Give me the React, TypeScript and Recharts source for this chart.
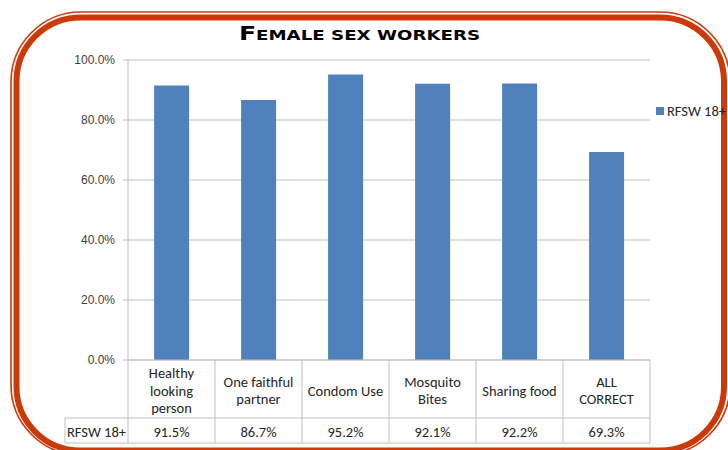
import React from 'react';
import { BarChart, Bar, XAxis, YAxis, CartesianGrid, Legend } from 'recharts';

const title = 'Female sex workers';
const seriesName = 'RFSW 18+';
const categories = [
  'Healthy looking person',
  'One faithful partner',
  'Condom Use',
  'Mosquito Bites',
  'Sharing food',
  'ALL CORRECT',
];
const categoryLabelLines = [
  ['Healthy', 'looking', 'person'],
  ['One faithful', 'partner'],
  ['Condom Use'],
  ['Mosquito', 'Bites'],
  ['Sharing food'],
  ['ALL', 'CORRECT'],
];
const values = [91.5, 86.7, 95.2, 92.1, 92.2, 69.3];
const yTicks = [0, 20, 40, 60, 80, 100];

const data = categories.map((c, i) => ({ category: c, value: values[i] }));

const W = 728;
const H = 450;
const MARGIN = { top: 60, right: 78, bottom: 0, left: 0 };
const Y_AXIS_W = 128;
const X_AXIS_H = 90;
const PLOT_W = W - MARGIN.left - MARGIN.right - Y_AXIS_W;

const BLUE = '#4F81BD';
const GRID = '#BFBFBF';
const FRAME = '#CC3A0A';
const TEXT = '#262626';
const TABLE_FONT = "Carlito, 'Liberation Sans Narrow', 'Liberation Sans', Arial, sans-serif";
const TABLE_FS = 14.5;

const fmt = (v: number) => `${v.toFixed(1)}%`;

const TableTick = (props: any) => {
  const { x, y, payload, index } = props;
  const n = categories.length;
  const cw = PLOT_W / n;
  const i = typeof index === 'number' ? index : categories.indexOf(payload.value);
  const lines = categoryLabelLines[i] || [String(payload.value)];
  const val = values[i];
  const left = x - cw / 2;
  const right = x + cw / 2;
  const rowSplit = y + 58;
  const bottom = y + 83;
  const lh = 17.5;
  const midY = y + 30.5;
  const startY = midY - ((lines.length - 1) * lh) / 2;
  const labelLeft = left - 63;
  return (
    <g>
      <line x1={right} y1={y} x2={right} y2={bottom} stroke={GRID} strokeWidth={1} />
      <line x1={left} y1={rowSplit} x2={right} y2={rowSplit} stroke={GRID} strokeWidth={1} />
      <line x1={left} y1={bottom} x2={right} y2={bottom} stroke={GRID} strokeWidth={1} />
      {i === 0 && (
        <g>
          <line x1={left} y1={y} x2={left} y2={bottom} stroke={GRID} strokeWidth={1} />
          <line x1={labelLeft} y1={rowSplit} x2={left} y2={rowSplit} stroke={GRID} strokeWidth={1} />
          <line x1={labelLeft} y1={bottom} x2={left} y2={bottom} stroke={GRID} strokeWidth={1} />
          <line x1={labelLeft} y1={rowSplit} x2={labelLeft} y2={bottom} stroke={GRID} strokeWidth={1} />
          <text
            x={(labelLeft + left) / 2}
            y={y + 71.5}
            textAnchor="middle"
            dominantBaseline="central"
            fontSize={TABLE_FS}
            fontFamily={TABLE_FONT}
            fill={TEXT}
          >
            {seriesName}
          </text>
        </g>
      )}
      {lines.map((ln: string, k: number) => (
        <text
          key={k}
          x={x}
          y={startY + k * lh}
          textAnchor="middle"
          dominantBaseline="central"
          fontSize={TABLE_FS}
          fontFamily={TABLE_FONT}
          fill={TEXT}
        >
          {ln}
        </text>
      ))}
      <text
        x={x}
        y={y + 71.5}
        textAnchor="middle"
        dominantBaseline="central"
        fontSize={TABLE_FS}
        fontFamily={TABLE_FONT}
        fill={TEXT}
      >
        {fmt(val)}
      </text>
    </g>
  );
};

const LegendContent = () => (
  <div style={{ display: 'flex', alignItems: 'center', fontFamily: TABLE_FONT, fontSize: TABLE_FS, color: TEXT, whiteSpace: 'nowrap' }}>
    <span style={{ display: 'inline-block', width: 8, height: 8, background: BLUE, marginRight: 3 }} />
    <span>{seriesName}</span>
  </div>
);

const Title = () => {
  const chars = title.split('');
  return (
    <text
      x={239}
      y={39.5}
      textLength={241}
      lengthAdjust="spacingAndGlyphs"
      fontFamily="'DejaVu Sans', sans-serif"
      fontWeight="bold"
      fill="#000"
    >
      {chars.map((ch, k) => {
        const isUpper = ch !== ch.toLowerCase();
        return (
          <tspan key={k} fontSize={isUpper ? 20 : 14.5}>
            {ch.toUpperCase()}
          </tspan>
        );
      })}
    </text>
  );
};

export default function App() {
  return (
    <div style={{ position: 'absolute', left: 0, top: 0, width: W, height: H, background: '#fff', overflow: 'hidden' }}>
      <svg width={W} height={H} style={{ position: 'absolute', left: 0, top: 0 }}>
        <rect x={11} y={12} width={719} height={443} rx={70} ry={70} fill="none" stroke={FRAME} strokeWidth={1.6} />
        <rect x={16.5} y={17.5} width={707.5} height={433} rx={64} ry={64} fill="none" stroke={FRAME} strokeWidth={6} />
        <Title />
      </svg>
      <div style={{ position: 'absolute', left: 0, top: 0 }}>
        <BarChart width={W} height={H} data={data} margin={MARGIN} barCategoryGap="30%">
          <CartesianGrid vertical={false} stroke={GRID} strokeWidth={1} />
          <XAxis
            dataKey="category"
            height={X_AXIS_H}
            axisLine={{ stroke: GRID }}
            tickLine={false}
            tickSize={0}
            tickMargin={0}
            interval={0}
            tick={<TableTick />}
          />
          <YAxis
            width={Y_AXIS_W}
            domain={[0, 100]}
            ticks={yTicks}
            tickFormatter={fmt}
            axisLine={{ stroke: GRID }}
            tickLine={{ stroke: GRID }}
            tickSize={5}
            tickMargin={8}
            tick={{ fontSize: 12, fontFamily: "'Liberation Sans', Arial, sans-serif", fill: '#404040' }}
          />
          <Legend
            verticalAlign="middle"
            align="center"
            layout="horizontal"
            wrapperStyle={{ position: 'absolute', left: 656, top: 102, width: 80, height: 18 }}
            content={<LegendContent />}
          />
          <Bar dataKey="value" name={seriesName} fill={BLUE} isAnimationActive={false} />
        </BarChart>
      </div>
    </div>
  );
}
